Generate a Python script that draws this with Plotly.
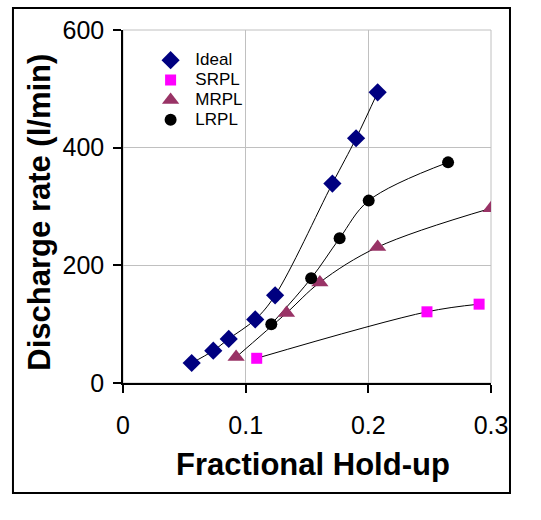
import plotly.graph_objects as go

# ---- data ----
ideal_x = [0.056, 0.0736, 0.0862, 0.1078, 0.124, 0.1707, 0.190, 0.2076]
ideal_y = [34, 55, 75, 108, 149, 339, 416, 494]

srpl_x = [0.109, 0.2478, 0.2903]
srpl_y = [42, 121, 134]

mrpl_x = [0.0922, 0.1333, 0.1605, 0.2076, 0.300]
mrpl_y = [44, 119, 171, 231, 297]

lrpl_x = [0.1209, 0.1534, 0.1766, 0.2003, 0.265]
lrpl_y = [100, 178, 246, 310, 375]

x_ticks = [0, 0.1, 0.2, 0.3]
x_tick_labels = ["0", "0.1", "0.2", "0.3"]
y_ticks = [0, 200, 400, 600]
y_tick_labels = ["0", "200", "400", "600"]

series_names = ["Ideal", "SRPL", "MRPL", "LRPL"]

# ---- styling ----
FONT = "Liberation Sans, Arial, sans-serif"
colors = ["#000080", "#FF00FF", "#993366", "#000000"]
symbols = ["diamond", "square", "triangle-up", "circle"]
sizes = [14, 11, 15, 12]

fig = go.Figure()

data = [(ideal_x, ideal_y), (srpl_x, srpl_y), (mrpl_x, mrpl_y), (lrpl_x, lrpl_y)]

# smooth connecting lines
for (xs, ys) in data:
    fig.add_trace(go.Scatter(
        x=xs, y=ys, mode="lines",
        line=dict(color="black", width=1, shape="spline", smoothing=1.0),
        showlegend=False, hoverinfo="skip"))

# markers
for (xs, ys), name, c, s, sz in zip(data, series_names, colors, symbols, sizes):
    fig.add_trace(go.Scatter(
        x=xs, y=ys, mode="markers",
        name=f'<span style="font-size:17px">&nbsp;{name}</span>',
        marker=dict(color=c, symbol=s, size=sz, line=dict(width=0))))

fig.update_layout(
    width=541, height=520,
    margin=dict(l=123, r=50, t=30, b=137),
    paper_bgcolor="white", plot_bgcolor="white",
    font=dict(family=FONT, color="black"),
    showlegend=True,
    legend=dict(x=0.075, y=0.957, xanchor="left", yanchor="top",
                bgcolor="rgba(0,0,0,0)", font=dict(size=13, family=FONT),
                tracegroupgap=0, itemwidth=30),
    shapes=[
        # gray plot-area frame (top/right)
        dict(type="rect", xref="paper", yref="paper", x0=0, x1=1, y0=0, y1=1,
             line=dict(color="#c0c0c0", width=1), layer="below"),
        # outer black box
        dict(type="rect", xref="paper", yref="paper",
             x0=-0.299, x1=1.0516, y0=-0.3116, y1=1.0623,
             line=dict(color="black", width=2)),
    ],
    annotations=[
        dict(text="<b>Fractional Hold-up</b>", xref="paper", yref="paper",
             x=0.515, y=-0.232, xanchor="center", yanchor="middle",
             showarrow=False, font=dict(size=31, family=FONT)),
        dict(text="<b>Discharge rate (l/min)</b>", xref="paper", yref="paper",
             x=-0.226, y=0.485, xanchor="center", yanchor="middle", textangle=-90,
             showarrow=False, font=dict(size=31, family=FONT)),
    ],
)

fig.update_xaxes(
    range=[0, 0.3], tickvals=x_ticks, ticktext=x_tick_labels,
    showgrid=True, gridcolor="#c0c0c0", gridwidth=1,
    showline=True, linecolor="black", linewidth=1.5,
    ticks="outside", ticklen=8, tickcolor="black", tickwidth=1.5,
    tickfont=dict(size=25, family=FONT), ticklabelstandoff=11,
    zeroline=False,
)
fig.update_yaxes(
    range=[0, 600], tickvals=y_ticks, ticktext=y_tick_labels,
    showgrid=True, gridcolor="#c0c0c0", gridwidth=1,
    showline=True, linecolor="black", linewidth=1.5,
    ticks="outside", ticklen=8, tickcolor="black", tickwidth=1.5,
    tickfont=dict(size=25, family=FONT), ticklabelstandoff=4,
    zeroline=False,
)

fig.write_html("out.html")
